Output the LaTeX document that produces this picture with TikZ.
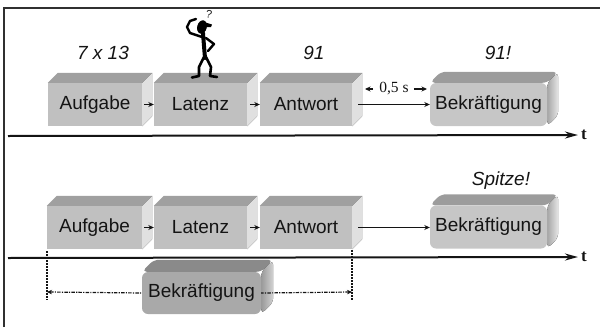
\documentclass[tikz,border=0pt]{standalone}
\usepackage{fontspec}
\setmainfont{Liberation Sans}
\newfontfamily\serifface{Liberation Serif}
\usetikzlibrary{arrows.meta,calc,backgrounds}

\definecolor{boxfront}{HTML}{C0C0C0}
\definecolor{boxtop}{HTML}{A0A0A0}
\definecolor{boxside}{HTML}{E0E0E0}
\definecolor{rewfront}{HTML}{C6C6C6}
\definecolor{rewtop}{HTML}{9C9C9C}
\definecolor{darkfront}{HTML}{A9A9A9}
\definecolor{darktop}{HTML}{8A8A8A}
\definecolor{framec}{HTML}{303030}
\definecolor{inkc}{HTML}{141414}

% top and side faces of a block, drawn behind its front node
% #1 node, #2 depth, #3 top colour, #4/#5 side shading, #6 corner option
\newcommand\cubefaces[6]{%
  \begin{scope}[on background layer,#6]
    \fill[#3] (#1.north west) -- ($(#1.north west)+(#2,-#2)$)
      -- ($(#1.north east)+(#2,-#2)$) -- (#1.north east) -- cycle;
    \fill[left color=#4,right color=#5] (#1.north east)
      -- ($(#1.north east)+(#2,-#2)$) -- ($(#1.south east)+(#2,-#2)$)
      -- (#1.south east) -- cycle;
  \end{scope}}

\begin{document}
\begin{tikzpicture}[x=1pt,y=-1pt,
  boxfont/.style={font=\fontsize{19}{22}\selectfont},
  blockfront/.style={rectangle,inner sep=0pt,minimum height=43pt,
    fill=boxfront,text=inkc,boxfont},
  rewfrontbox/.style={blockfront,fill=rewfront,rounded corners=6pt},
  darkbox/.style={blockfront,minimum height=42pt,fill=darkfront,rounded corners=6pt},
  remark/.style={text=inkc,font=\fontsize{19}{22}\selectfont\itshape},
  arr/.style={-{Stealth[length=5.5pt,width=5pt]},line width=1.6pt,inkc},
  timeline/.style={-{Stealth[length=13pt,width=7pt]},line width=2pt,inkc},
  tlabel/.style={inner sep=1pt,text=inkc,font=\serifface\bfseries\fontsize{17}{20}\selectfont},
  dimline/.style={{Stealth[length=5pt,width=4.5pt]}-,line width=1.2pt,inkc,
    dash pattern=on 3.5pt off 1.2pt on 1.2pt off 1.2pt},
  guide/.style={line width=1.4pt,inkc,dash pattern=on 1.5pt off 1.5pt},
  figline/.style={line width=3pt,black,line cap=round,line join=round}]

\useasboundingbox (0,0) rectangle (600,327);

% frame
\coordinate (fA) at (4,327);
\coordinate (fB) at (4,8);
\coordinate (fC) at (600,8);
\draw[framec,line width=2pt] (fA) -- (fB) -- (fC);

% ---------- upper sequence ----------
\node[blockfront,minimum width=94pt] (a1) at (95,104.5) {Aufgabe};
\cubefaces{a1}{10}{boxtop}{boxside}{boxside}{sharp corners}
\node[blockfront,minimum width=93pt] (l1) at (200.5,104.5) {Latenz};
\cubefaces{l1}{10}{boxtop}{boxside}{boxside}{sharp corners}
\node[blockfront,minimum width=92pt] (w1) at (306,104.5) {Antwort};
\cubefaces{w1}{10}{boxtop}{boxside}{boxside}{sharp corners}
\node[rewfrontbox,minimum width=117pt] (b1) at (488.5,104.5) {Bekräftigung};
\cubefaces{b1}{11}{rewtop}{gray!70}{gray!20}{rounded corners=5pt}

\node[remark] (q1) at (103,53) {7 x 13};
\node[remark] (r1) at (314,53) {91};
\node[remark] (s1) at (498,53) {91!};

\draw[arr] ([xshift=2pt]a1.east) -- (l1.west);
\draw[arr] ([xshift=3pt]l1.east) -- (w1.west);
\draw[arr] ([xshift=6pt]w1.east) -- (b1.west);

\node[text=inkc,inner sep=0pt,font=\serifface\fontsize{15.5}{18}\selectfont] (dt) at (394,89) {0,5 s};
\coordinate (dtl) at (365,89);
\coordinate (dtr) at (427,89);
\draw[arr,line width=1.3pt] ([xshift=-6pt]dt.west) -- (dtl);
\draw[arr,line width=1.3pt] ([xshift=5pt]dt.east) -- (dtr);

\coordinate (t1s) at (8,136);
\node[tlabel] (t1) at (584,135) {t};
\draw[timeline] (t1s) -- ([xshift=-2pt]t1.west);

% thinking figure standing on the latency block
\fill[black,rotate around={-15:(202,27)}] (202,27) ellipse (4.8 and 6.8);
\fill[black] (204,22) -- (212,24.5) -- (211,27) -- (205,27) -- cycle;
\draw[figline,line width=4pt] (203,33) -- (204,46) -- (205,58);
\draw[figline,line width=2.4pt] (202,37) -- (190,33) -- (187,27) -- (190,21) -- (196,19);
\draw[figline,line width=2.4pt] (206,38) -- (214,44) -- (208,51);
\draw[figline,line width=2.6pt] (204,57) -- (199,67) -- (199,76) -- (192,77.5);
\draw[figline,line width=2.6pt] (206,57) -- (211,67) -- (210,76) -- (217,77);
\node[text=inkc,inner sep=0pt,font=\fontsize{11}{12}\selectfont,rotate=-10] (qm) at (209,14) {?};

% ---------- lower sequence ----------
\node[blockfront,minimum width=95pt] (a2) at (94.5,227.5) {Aufgabe};
\cubefaces{a2}{10}{boxtop}{boxside}{boxside}{sharp corners}
\node[blockfront,minimum width=93pt] (l2) at (200.5,227.5) {Latenz};
\cubefaces{l2}{10}{boxtop}{boxside}{boxside}{sharp corners}
\node[blockfront,minimum width=92pt] (w2) at (306,227.5) {Antwort};
\cubefaces{w2}{10}{boxtop}{boxside}{boxside}{sharp corners}
\node[rewfrontbox,minimum width=117pt] (b2) at (488.5,227) {Bekräftigung};
\cubefaces{b2}{11}{rewtop}{gray!70}{gray!20}{rounded corners=5pt}

\node[remark] (s2) at (501,181) {Spitze!};

\draw[arr] ([xshift=2pt]a2.east) -- (l2.west);
\draw[arr] ([xshift=3pt]l2.east) -- (w2.west);
\draw[arr] ([xshift=6pt]w2.east) -- (w2.east -| b2.west);

\coordinate (t2s) at (8,258);
\node[tlabel] (t2) at (584,257) {t};
\draw[timeline] (t2s) -- ([xshift=-2pt]t2.west);

% immediate reinforcement spanning the whole trial
\coordinate (g1a) at (47,251);
\coordinate (g1b) at (47,300);
\coordinate (g2a) at (352,250);
\coordinate (g2b) at (352,300);
\draw[guide] (g1a) -- (g1b);
\draw[guide] (g2a) -- (g2b);

\node[darkbox,minimum width=119pt] (r2) at (201.5,293) {Bekräftigung};
\cubefaces{r2}{12}{darktop}{gray!80}{gray!35}{rounded corners=5pt}
\coordinate (d1) at (47,292);
\coordinate (d2) at (352,292);
\draw[dimline] (d1) -- (r2.west);
\draw[dimline] (d2) -- (r2.east);

\end{tikzpicture}
\end{document}
